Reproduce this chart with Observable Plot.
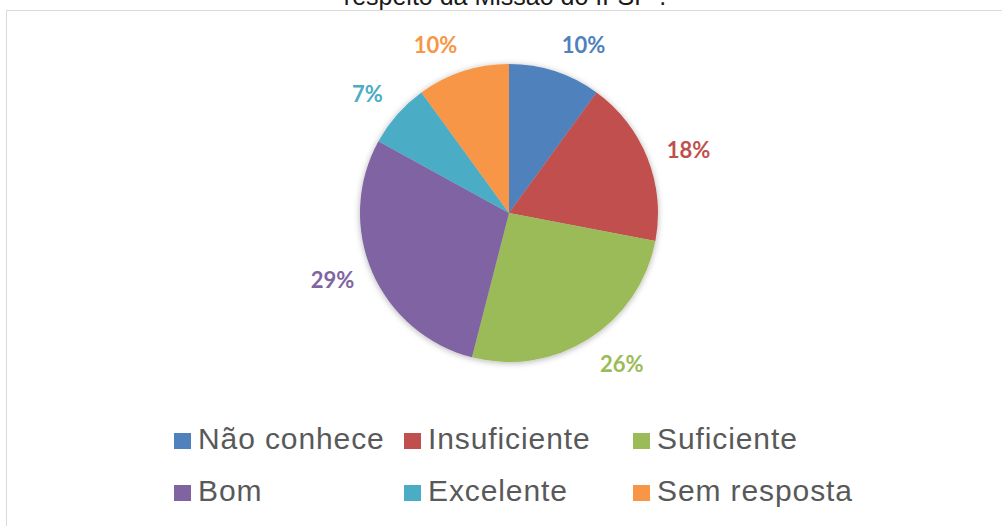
<!DOCTYPE html>
<html>
<head>
<meta charset="utf-8">
<script src="https://cdn.jsdelivr.net/npm/d3@7"></script>
<script src="https://cdn.jsdelivr.net/npm/@observablehq/plot@0.6"></script>
<style>
  html, body { margin: 0; padding: 0; background: #fff; overflow: hidden; }
  body { width: 1002px; height: 526px; position: relative; }
  #frame { position: absolute; left: 6px; top: 10px; width: 1010px; height: 600px; border: 1px solid #d9d9d9; box-sizing: border-box; }
  #title { position: absolute; left: 0; width: 1010px; top: -16px; text-align: center; font-family: "Liberation Sans", Arial, sans-serif; font-size: 25px; line-height: 25px; color: #1a1a1a; white-space: nowrap; }
  #chart { position: absolute; left: 0; top: 0; }
  #legend { position: absolute; left: 174px; top: 413px; display: grid; grid-template-columns: 230px 229px auto; font-family: "Liberation Sans", Arial, sans-serif; font-size: 30px; line-height: 52px; letter-spacing: 0.9px; color: #595959; }
  .item { white-space: nowrap; }
  .sw { display: inline-block; width: 17px; height: 16px; margin-right: 7px; vertical-align: baseline; }
</style>
</head>
<body>
<div id="frame"></div>
<div id="chart"></div>
<div id="title"></div>
<div id="legend"></div>
<script>
const title = "respeito da Missão do IFSP”.";
const categories = ["Não conhece", "Insuficiente", "Suficiente", "Bom", "Excelente", "Sem resposta"];
const values = [10, 18, 26, 29, 7, 10];
const colors = ["#4F81BD", "#C0504D", "#9BBB59", "#8064A2", "#4BACC6", "#F79646"];
const labels = values.map(v => v + "%");

document.getElementById("title").textContent = title;

const W = 1002, H = 420, cx = 509, cy = 213, R = 149;
const data = categories.map((c, i) => ({category: c, value: values[i], color: colors[i], label: labels[i]}));
const arcs = d3.pie().sort(null).value(d => d.value)(data);
const labelR = 1 + 20 / R;
const labelData = arcs.map(a => {
  const t = (a.startAngle + a.endAngle) / 2;
  const s = Math.sin(t), c = Math.cos(t);
  return {
    ...a.data,
    lx: s * labelR,
    ly: c * labelR,
    side: s >= 0 ? "start" : "end",
    vert: c > 0.5 ? "bottom" : (c < -0.5 ? "top" : "middle")
  };
});

const pieMark = (index, scales) => {
  const {x, y} = scales;
  const r = x(1) - x(0);
  const root = d3.create("svg:g");
  const f = root.append("defs").append("filter").attr("id", "pieShadow")
    .attr("x", "-20%").attr("y", "-20%").attr("width", "140%").attr("height", "140%");
  f.append("feDropShadow").attr("dx", 0).attr("dy", 1).attr("stdDeviation", 3)
    .attr("flood-color", "#000").attr("flood-opacity", 0.3);
  const g = root.append("g").attr("transform", `translate(${x(0)},${y(0)})`).attr("filter", "url(#pieShadow)");
  const arc = d3.arc().innerRadius(0).outerRadius(r);
  g.selectAll("path").data(arcs).join("path")
    .attr("d", arc)
    .attr("fill", d => d.data.color);
  return root.node();
};

const textMarks = [];
for (const side of ["start", "end"]) {
  for (const vert of ["bottom", "middle", "top"]) {
    textMarks.push(Plot.text(labelData, {
      filter: d => d.side === side && d.vert === vert,
      x: "lx", y: "ly", text: "label", fill: "color",
      textAnchor: side, lineAnchor: vert,
      fontFamily: "Lato, 'Open Sans', sans-serif", fontWeight: "bold", fontSize: 22
    }));
  }
}

const plot = Plot.plot({
  width: W, height: H,
  margin: 0,
  x: {domain: [-cx / R, (W - cx) / R], axis: null},
  y: {domain: [-(H - cy) / R, cy / R], axis: null},
  style: {background: "transparent", overflow: "visible"},
  marks: [pieMark, ...textMarks]
});
document.getElementById("chart").appendChild(plot);

const legend = document.getElementById("legend");
data.forEach(d => {
  const item = document.createElement("div");
  item.className = "item";
  const sw = document.createElement("span");
  sw.className = "sw";
  sw.style.background = d.color;
  item.appendChild(sw);
  item.appendChild(document.createTextNode(d.category));
  legend.appendChild(item);
});
</script>
</body>
</html>
